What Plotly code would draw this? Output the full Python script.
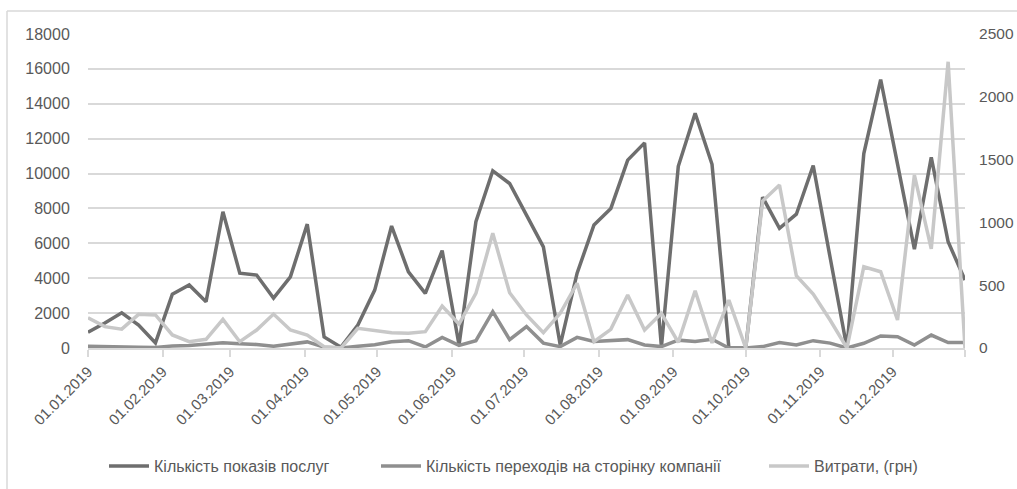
import pandas as pd
import plotly.graph_objects as go

# Weekly observation dates for 2019
dates = pd.date_range("2019-01-01", periods=53, freq="7D")

# Кількість показів послуг (left axis)
impressions = [
    900, 1430, 2020, 1320, 290, 3090, 3610, 2650, 7810, 4290,
    4180, 2860, 4080, 7100, 630, 50, 1320, 3320, 6990, 4370,
    3130, 5580, 170, 7240, 10160, 9430, 7620, 5800, 170, 4290,
    7050, 8000, 10770, 11760, 70, 10420, 13460, 10530, 0, 0,
    8650, 6860, 7670, 10460, 5200, 0, 11150, 15390, 10540, 5670,
    10930, 6090, 3900,
]

# Кількість переходів на сторінку компанії (left axis)
clicks = [
    100, 100, 80, 50, 30, 120, 150, 200, 300, 250,
    200, 100, 250, 350, 50, 0, 100, 190, 360, 420,
    60, 610, 150, 420, 2080, 480, 1230, 280, 80, 610,
    370, 420, 480, 170, 80, 450, 370, 500, 0, 0,
    80, 310, 170, 420, 280, 0, 270, 690, 650, 170,
    740, 310, 310,
]

# Витрати, (грн) (right axis)
costs = [
    241, 170, 150, 268, 263, 104, 50, 69, 228, 50,
    143, 270, 143, 103, 10, 0, 157, 143, 122, 117,
    130, 334, 191, 435, 913, 440, 263, 122, 276, 515,
    50, 149, 422, 143, 276, 45, 456, 40, 382, 0,
    1170, 1297, 575, 430, 223, 0, 647, 607, 223, 1377,
    790, 2279, 0,
]

month_ticks = list(pd.date_range("2019-01-01", periods=12, freq="MS")) + [dates[-1]]
month_labels = [d.strftime("%d.%m.%Y") for d in month_ticks[:-1]] + [""]

names = [
    "Кількість показів послуг",
    "Кількість переходів на сторінку компанії",
    "Витрати, (грн)",
]
colors = ["#6e6e6e", "#8f8f8f", "#c8c8c8"]

W, H = 1017, 489
L, R, T, B = 88, 965, 34, 348


def px_x(p):
    return (p - L) / (R - L)


def px_y(p):
    return (B - p) / (B - T)


fig = go.Figure()
fig.add_trace(go.Scatter(x=dates, y=impressions, name=names[0], mode="lines",
                         line=dict(color=colors[0], width=3.5), legend="legend"))
fig.add_trace(go.Scatter(x=dates, y=clicks, name=names[1], mode="lines",
                         line=dict(color=colors[1], width=3.5), legend="legend2"))
fig.add_trace(go.Scatter(x=dates, y=costs, name=names[2], mode="lines", yaxis="y2",
                         line=dict(color=colors[2], width=3.5), legend="legend3"))

family = "Liberation Sans, Arial, sans-serif"
legend_common = dict(orientation="h", yanchor="middle", y=px_y(466), xanchor="left",
                     font=dict(family=family, size=16, color="#595959"),
                     bgcolor="rgba(0,0,0,0)", borderwidth=0, itemwidth=40,
                     tracegroupgap=0)

fig.update_layout(
    width=W, height=H,
    margin=dict(l=L, r=W - R, t=T, b=H - B, pad=0, autoexpand=False),
    paper_bgcolor="white", plot_bgcolor="white",
    font=dict(family=family, size=16, color="#595959"),
    showlegend=True,
    legend=dict(x=px_x(104), **legend_common),
    legend2=dict(x=px_x(376), **legend_common),
    legend3=dict(x=px_x(764), **legend_common),
    xaxis=dict(
        type="date", automargin=False,
        range=[dates[0], dates[-1]],
        tickmode="array", tickvals=month_ticks, ticktext=month_labels,
        tickangle=-45, tickfont=dict(family=family, size=15, color="#595959"),
        showgrid=False, zeroline=False,
        showline=True, linecolor="#d9d9d9", linewidth=2,
        ticks="outside", ticklen=7, tickcolor="#d9d9d9", tickwidth=1.5,
    ),
    yaxis=dict(
        automargin=False,
        range=[0, 18000], dtick=2000, tick0=0, tickformat="d",
        showgrid=True, gridcolor="#d9d9d9", gridwidth=2,
        zeroline=False, showline=False,
        ticks="outside", ticklen=14, tickcolor="rgba(0,0,0,0)",
        tickfont=dict(family=family, size=16, color="#595959"),
    ),
    yaxis2=dict(
        automargin=False,
        range=[0, 2500], dtick=500, tick0=0, tickformat="d",
        overlaying="y", side="right",
        showgrid=False, zeroline=False, showline=False,
        ticks="outside", ticklen=10, tickcolor="rgba(0,0,0,0)",
        tickfont=dict(family=family, size=15.5, color="#595959"),
    ),
    shapes=[
        dict(type="line", xref="paper", yref="paper",
             x0=px_x(7), x1=px_x(W + 5), y0=px_y(11), y1=px_y(11),
             line=dict(color="#d9d9d9", width=1.5)),
        dict(type="line", xref="paper", yref="paper",
             x0=px_x(7), x1=px_x(7), y0=px_y(11), y1=px_y(H + 5),
             line=dict(color="#d9d9d9", width=1.5)),
    ],
)

fig.write_html("out.html")
